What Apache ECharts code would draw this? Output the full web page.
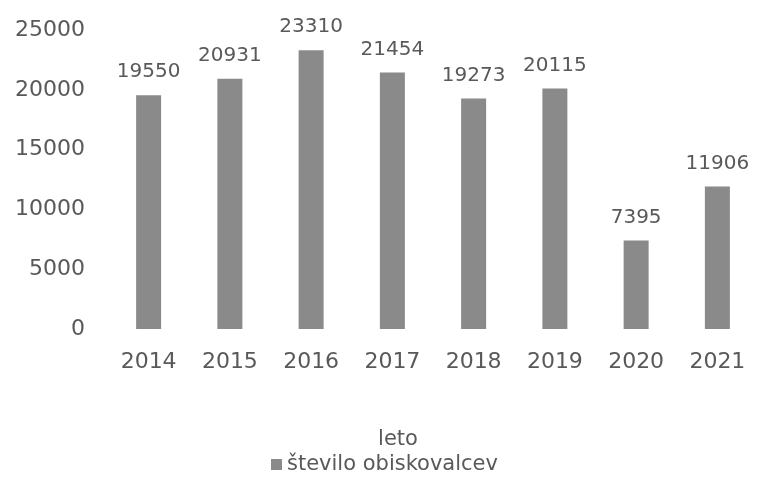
<!DOCTYPE html>
<html><head><meta charset="utf-8">
<script src="https://cdn.jsdelivr.net/npm/echarts@6/dist/echarts.min.js"></script>
<style>html,body{margin:0;padding:0;background:#fff}#c{width:758px;height:478px}</style>
</head><body><div id="c"></div>
<script>
var categories = ['2014','2015','2016','2017','2018','2019','2020','2021'];
var visitors = [19550, 20931, 23310, 21454, 19273, 20115, 7395, 11906];
var seriesName = 'število obiskovalcev';
var axisName = 'leto';
var FONT = 'DejaVu Sans';
var TXT = '#595959';
var chart = echarts.init(document.getElementById('c'));
chart.setOption({
  animation: false,
  textStyle: { fontFamily: FONT },
  grid: { left: 108, width: 653, top: 30, bottom: 149 },
  legend: {
    data: [seriesName], bottom: -2, left: 266,
    icon: 'rect', itemWidth: 11, itemHeight: 11, itemGap: 4,
    textStyle: { fontFamily: FONT, fontSize: 21, color: TXT }
  },
  xAxis: {
    type: 'category', data: categories,
    name: axisName, nameLocation: 'middle', nameGap: 100,
    nameTextStyle: { fontFamily: FONT, fontSize: 21, color: TXT, padding: [0, 70, 0, 0] },
    axisLine: { show: false }, axisTick: { show: false },
    axisLabel: { fontFamily: FONT, fontSize: 22, color: TXT, margin: 22 }
  },
  yAxis: {
    type: 'value', min: 0, max: 25000, interval: 5000,
    axisLine: { show: false }, axisTick: { show: false },
    splitLine: { show: false },
    axisLabel: { fontFamily: FONT, fontSize: 22, color: TXT, margin: 23,
      formatter: function (v) { return String(v); } }
  },
  series: [{
    name: seriesName, type: 'bar', data: visitors, barWidth: 25,
    itemStyle: { color: '#8a8a8a' },
    label: { show: true, position: 'top', distance: 13, fontFamily: FONT, fontSize: 20, color: TXT }
  }]
});
</script></body></html>
